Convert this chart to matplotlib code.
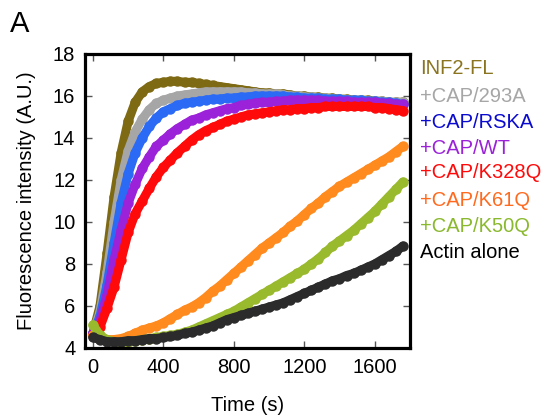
import numpy as np
import matplotlib
matplotlib.use("Agg")
import matplotlib.pyplot as plt

plt.rcParams['font.family'] = ['Liberation Sans', 'DejaVu Sans']

time_s = np.arange(0, 1800, 40)

inf2_fl = [4.7, 6.0, 8.5, 11.2, 13.3, 14.8, 15.7, 16.2, 16.45, 16.6, 16.65, 16.7, 16.7, 16.65, 16.65,
           16.6, 16.55, 16.5, 16.45, 16.4, 16.35, 16.3, 16.25, 16.2, 16.15, 16.15, 16.1, 16.1, 16.05,
           16.0, 16.0, 15.95, 15.95, 15.9, 15.9, 15.85, 15.85, 15.8, 15.8, 15.8, 15.75, 15.75, 15.7, 15.7, 15.7]
cap_293a = [4.7, 5.7, 7.6, 10.0, 12.0, 13.4, 14.3, 14.9, 15.35, 15.65, 15.8, 15.9, 16.0, 16.05, 16.1,
            16.15, 16.2, 16.2, 16.2, 16.2, 16.2, 16.2, 16.15, 16.15, 16.1, 16.1, 16.1, 16.05, 16.0,
            16.0, 15.95, 15.95, 15.9, 15.9, 15.85, 15.85, 15.8, 15.8, 15.8, 15.75, 15.75, 15.75, 15.7, 15.7, 15.7]
cap_rska = [4.7, 5.5, 7.0, 9.0, 10.9, 12.3, 13.3, 14.0, 14.55, 14.95, 15.25, 15.4, 15.55, 15.65, 15.7,
            15.75, 15.8, 15.85, 15.85, 15.9, 15.9, 15.95, 15.95, 16.0, 16.0, 16.0, 16.0, 16.0, 15.95,
            15.95, 15.9, 15.9, 15.9, 15.85, 15.85, 15.85, 15.8, 15.8, 15.8, 15.75, 15.75, 15.7, 15.7, 15.65, 15.6]
cap_wt = [4.7, 5.3, 6.5, 8.2, 9.6, 10.9, 11.8, 12.55, 13.1, 13.6, 13.9, 14.2, 14.45, 14.65, 14.85,
          14.95, 15.1, 15.2, 15.3, 15.4, 15.45, 15.55, 15.6, 15.65, 15.7, 15.7, 15.75, 15.75, 15.8,
          15.8, 15.8, 15.8, 15.8, 15.75, 15.75, 15.75, 15.75, 15.7, 15.7, 15.7, 15.7, 15.65, 15.65, 15.6, 15.6]
cap_k328q = [4.6, 5.0, 5.9, 6.9, 8.2, 9.5, 10.4, 11.0, 11.6, 12.15, 12.6, 12.95, 13.3, 13.6, 13.9,
             14.15, 14.35, 14.5, 14.65, 14.8, 14.9, 15.0, 15.1, 15.15, 15.2, 15.25, 15.3, 15.35, 15.35,
             15.4, 15.4, 15.45, 15.45, 15.5, 15.5, 15.5, 15.5, 15.5, 15.5, 15.5, 15.45, 15.45, 15.4, 15.35, 15.3]
cap_k61q = [4.6, 4.45, 4.4, 4.4, 4.45, 4.55, 4.7, 4.85, 4.95, 5.05, 5.2, 5.4, 5.6, 5.8, 5.95,
            6.15, 6.4, 6.7, 6.95, 7.25, 7.55, 7.85, 8.15, 8.45, 8.75, 9.0, 9.25, 9.5, 9.8,
            10.05, 10.35, 10.65, 10.9, 11.2, 11.45, 11.7, 11.9, 12.1, 12.3, 12.5, 12.7, 12.9, 13.1, 13.35, 13.6]
cap_k50q = [5.1, 4.6, 4.4, 4.3, 4.25, 4.3, 4.35, 4.4, 4.45, 4.5, 4.55, 4.6, 4.65, 4.75, 4.85,
            5.0, 5.15, 5.3, 5.45, 5.6, 5.75, 5.95, 6.15, 6.35, 6.55, 6.75, 6.95, 7.15, 7.35,
            7.55, 7.75, 8.0, 8.25, 8.55, 8.85, 9.1, 9.35, 9.6, 9.9, 10.2, 10.5, 10.85, 11.2, 11.55, 11.9]
actin_alone = [4.5, 4.4, 4.3, 4.3, 4.3, 4.35, 4.35, 4.4, 4.45, 4.45, 4.5, 4.55, 4.6, 4.7, 4.75,
               4.85, 4.95, 5.05, 5.2, 5.35, 5.45, 5.55, 5.65, 5.75, 5.85, 5.95, 6.05, 6.15, 6.3,
               6.45, 6.6, 6.75, 6.9, 7.05, 7.2, 7.3, 7.45, 7.55, 7.7, 7.85, 8.0, 8.2, 8.4, 8.6, 8.85]

labels = ["INF2-FL", "+CAP/293A", "+CAP/RSKA", "+CAP/WT", "+CAP/K328Q", "+CAP/K61Q", "+CAP/K50Q", "Actin alone"]
series = [inf2_fl, cap_293a, cap_rska, cap_wt, cap_k328q, cap_k61q, cap_k50q, actin_alone]
line_colors = ["#7f6a14", "#a6a6a6", "#2a6af5", "#9b22d8", "#ff0a0a", "#ff8a1e", "#9aba2e", "#2b2b2b"]
text_colors = ["#8a7420", "#a6a6a6", "#0b0bd0", "#9b22d8", "#ff0a0a", "#ff6a1e", "#8ab82e", "#000000"]

fig = plt.figure(figsize=(5.47, 4.16), dpi=100)
ax = fig.add_axes([0.1554, 0.1635, 0.594, 0.7067])

for y, c in zip(series, line_colors):
    ax.plot(time_s, y, color=c, lw=6.5, marker='o', ms=6.5, solid_capstyle='round',
            solid_joinstyle='round')

ax.set_xlim(-45, 1800)
ax.set_ylim(4, 18)
ax.set_xticks([0, 400, 800, 1200, 1600])
ax.set_yticks(np.arange(4, 19, 2))
ax.tick_params(direction='in', top=True, right=True, length=5, width=1, color='#555555',
               labelsize=14.5, pad=7)
for s in ax.spines.values():
    s.set_linewidth(2.3)
ax.set_xlabel("Time (s)", fontsize=14.5, labelpad=14)
ax.set_ylabel("Fluorescence intensity (A.U.)", fontsize=14.5, labelpad=12)

ys = [68, 97, 122, 148, 173, 200, 227, 252]
for lab, c, yp in zip(labels, text_colors, ys):
    fig.text(420 / 547, 1 - yp / 416, lab, color=c, fontsize=14.5, va='center', ha='left')

fig.text(10 / 547, 1 - 24 / 416, "A", fontsize=21, va='center', ha='left')

fig.savefig("out.png", dpi=100)
